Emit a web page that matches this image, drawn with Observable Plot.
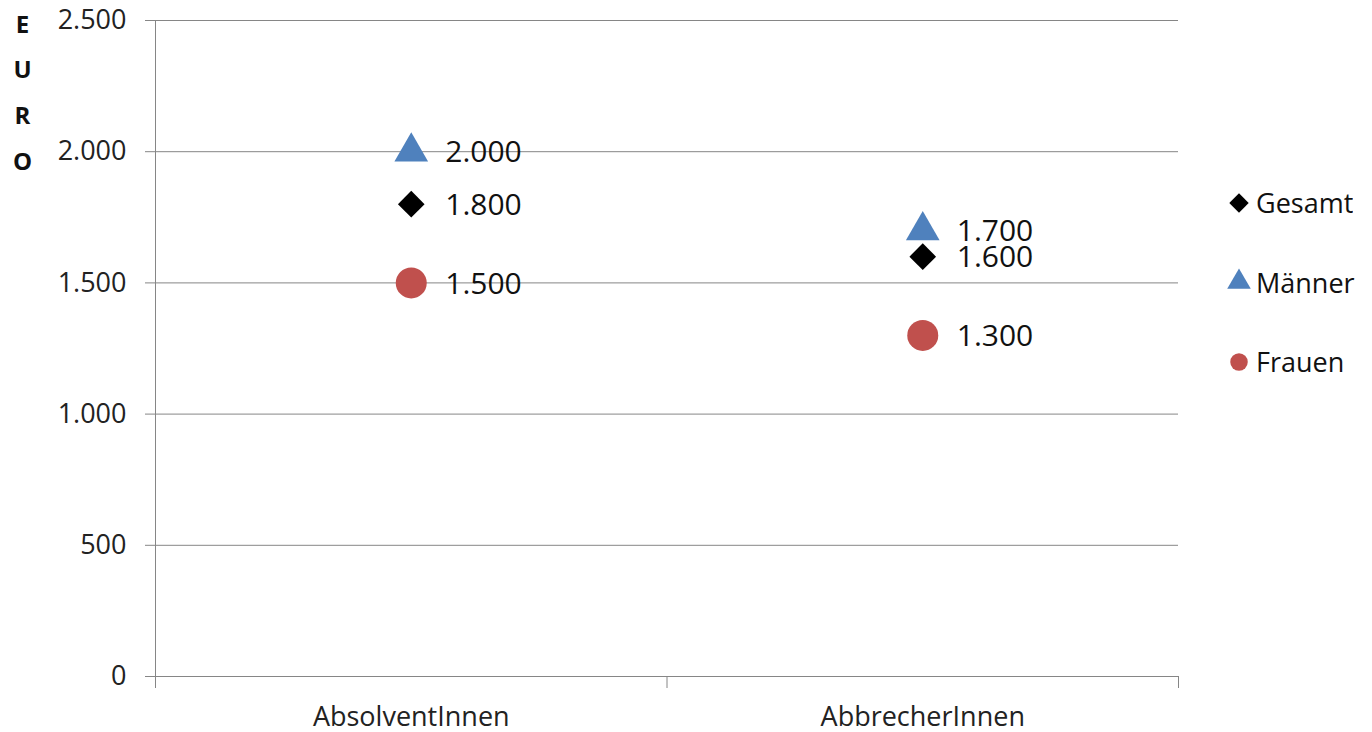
<!DOCTYPE html>
<html>
<head>
<meta charset="utf-8">
<script src="https://cdn.jsdelivr.net/npm/d3@7"></script>
<script src="https://cdn.jsdelivr.net/npm/@observablehq/plot@0.6"></script>
<style>
  html, body { margin: 0; padding: 0; background: #fff; }
  #wrap { position: relative; width: 1372px; height: 732px; }
  #legend { position: absolute; left: 1229px; top: 184px; }
  .lg-swatch { padding-bottom: 42.5px !important; }
  .lg-swatch svg { margin-right: 7px !important; }
</style>
</head>
<body>
<div id="wrap"><div id="legend"></div></div>
<script>
const categories = ["AbsolventInnen", "AbbrecherInnen"];
const series = ["Gesamt", "Männer", "Frauen"];
const gesamt = [1800, 1600];
const maenner = [2000, 1700];
const frauen = [1500, 1300];
const yTicks = [0, 500, 1000, 1500, 2000, 2500];
const yLabel = "E\nU\nR\nO";
const seriesColors = ["#000000", "#4F81BD", "#C0504D"];
const seriesSymbols = ["diamond2", "triangle", "circle"];
const seriesR = [12, 12.5, 15.5];

const values = {Gesamt: gesamt, "Männer": maenner, Frauen: frauen};
const rows = [];
series.forEach((s, si) => {
  categories.forEach((c, i) => {
    rows.push({series: s, category: c, pos: i + 0.5, value: values[s][i], r: seriesR[si]});
  });
});

const de = d3.formatLocale({decimal: ",", thousands: ".", grouping: [3], currency: ["", "€"]});
const fmt = de.format(",d");
const gray = "#868686";
const font = "'Open Sans', sans-serif";

const plot = Plot.plot({
  width: 1372,
  height: 732,
  marginLeft: 155,
  marginRight: 194,
  marginTop: 20,
  marginBottom: 56,
  style: {fontFamily: font, background: "#fff", color: "#222", overflow: "visible"},
  x: {type: "linear", domain: [0, categories.length]},
  y: {domain: [0, 2500]},
  r: {type: "identity"},
  color: {domain: series, range: seriesColors},
  symbol: {domain: series, range: seriesSymbols},
  marks: [
    Plot.gridY(yTicks.filter(d => d > 0), {stroke: gray, strokeOpacity: 1, strokeWidth: 1}),
    Plot.axisY({ticks: yTicks, tickSize: 10, tickPadding: 19, tickFormat: fmt, fontSize: 27, stroke: gray, strokeOpacity: 1, label: null, color: "#222"}),
    Plot.ruleX([0], {y1: 0, y2: 2500, stroke: gray, strokeWidth: 1}),
    Plot.ruleY([0], {stroke: gray, strokeWidth: 1}),
    Plot.axisX({ticks: d3.range(categories.length + 1), tickSize: 12, tickFormat: () => "", stroke: gray, strokeOpacity: 1, label: null}),
    Plot.axisX({ticks: categories.map((c, i) => i + 0.5), tickSize: 0, tickPadding: 30, tickFormat: d => categories[Math.floor(d)], fontSize: 27, label: null, color: "#222"}),
    Plot.text([yLabel], {text: d => d, frameAnchor: "top-left", dx: -133, dy: -20, lineAnchor: "top", lineHeight: 1.9, fontSize: 24, fontWeight: "bold", textAnchor: "middle", fill: "#111"}),
    Plot.dot(rows, {x: "pos", y: "value", symbol: "series", fill: "series", r: "r", stroke: "none"}),
    Plot.text(rows, {x: "pos", y: "value", text: d => fmt(d.value), dx: 34, dy: 1, textAnchor: "start", fontSize: 30, fill: "#111"})
  ]
});
document.getElementById("wrap").prepend(plot);

const leg = plot.legend("symbol", {className: "lg", columns: 1, r: 7, swatchSize: 20, style: {fontSize: "27px", fontFamily: font, color: "#111"}});
document.getElementById("legend").appendChild(leg);
</script>
</body>
</html>
